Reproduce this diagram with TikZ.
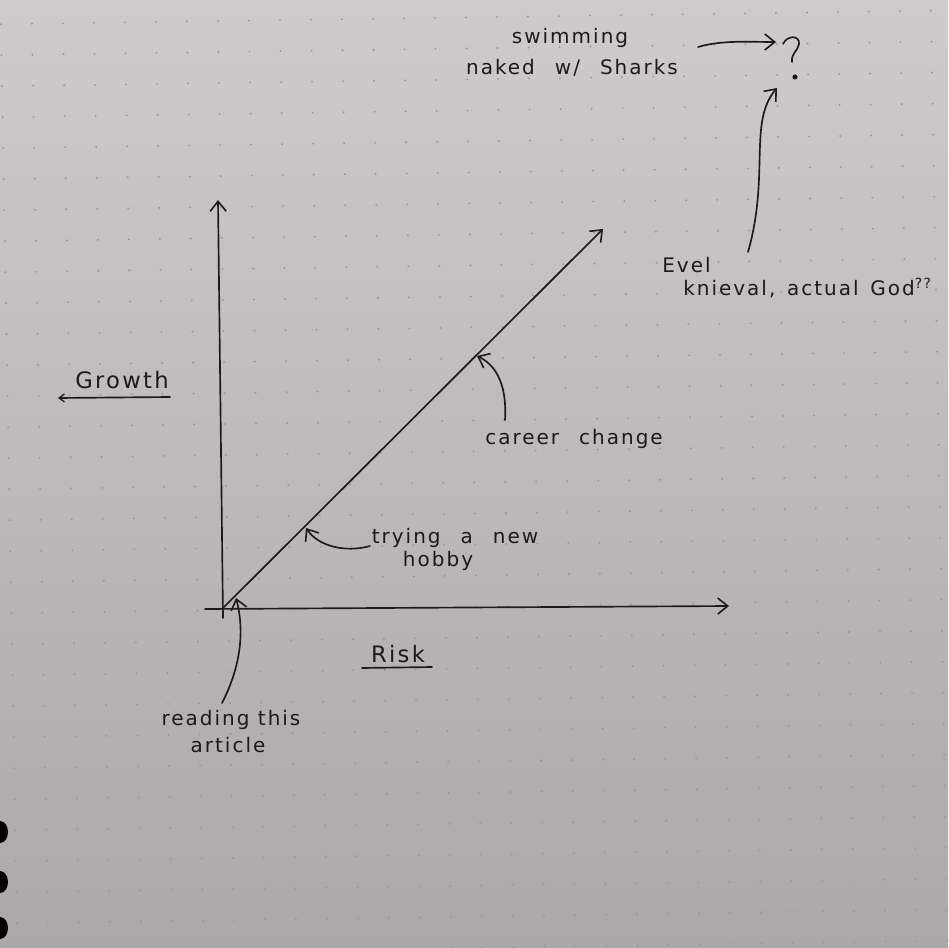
\documentclass[tikz,border=0pt]{standalone}
\usepackage{fontspec}
\usetikzlibrary{arrows.meta}
\newfontfamily\hand[LetterSpace=10]{DejaVu Sans}
\definecolor{papertop}{HTML}{CECBCD}
\definecolor{paperbot}{HTML}{ACA8AA}
\definecolor{ink}{HTML}{1C1A1B}
\definecolor{dotc}{HTML}{9A9698}
\tikzset{
  inkline/.style={draw=ink, line width=1.25pt, line cap=round, line join=round},
  barb/.style={inkline, -{Straight Barb[length=7.5pt,width=12pt,line width=1.2pt]}},
  label/.style={text=ink, font=\hand\fontsize{15}{17}\selectfont, inner sep=0pt},
  biglabel/.style={text=ink, font=\hand\fontsize{17}{19}\selectfont, inner sep=0pt}
}
\begin{document}
\begin{tikzpicture}[x=0.75pt,y=-0.75pt]
\useasboundingbox (0,0) rectangle (948,948);
\shade[top color=papertop, bottom color=paperbot] (0,0) rectangle (948,948);
% dot grid
\foreach \i in {0,...,30}{
  \foreach \j in {-1,...,30}{
    \fill[dotc] ({0.95+31*\i+0.55*\j},{24.2+31*\j-0.45*\i}) circle (1.05);
  }
}
% binder holes
\foreach \yy in {832,882,928}{
  \fill[black] (0,\yy) ellipse (8 and 11);
}
% coordinates
\coordinate (O) at (223,608);
\coordinate (ybot) at (223,618);
\coordinate (ytop) at (218,200);
\coordinate (xleft) at (205,609);
\coordinate (xright) at (729,606);
\coordinate (dtip) at (603,229);
\coordinate (hobbyPt) at (306,528);
\coordinate (careerPt) at (477,356);
\coordinate (originPt) at (236,598);
% axes
\draw[barb] (ybot) -- (ytop);
\draw[barb] (xleft) -- (xright);
\draw[barb] (O) -- (dtip);
% labels
\node[biglabel] (growth) at (122,380) {Growth};
\coordinate (gl) at (58,398);
\coordinate (gr) at (170,397);
\draw[inkline, {Straight Barb[length=4pt,width=6pt,line width=1pt]}-] (gl) -- (gr);
\node[biglabel] (risk) at (398,654) {Risk};
\coordinate (rl) at (362,668);
\coordinate (rr) at (432,667);
\draw[inkline] (rl) -- (rr);
% reading this article
\node[label] (read1) at (231,720) {reading this};
\node[label] (read2) at (228,745) {article};
\coordinate (readStart) at (222,703);
\draw[barb] (readStart) .. controls (238,672) and (246,636) .. (originPt);
% trying a new hobby
\node[label] (hob1) at (455,538) {trying\quad a\quad new};
\node[label] (hob2) at (438,561) {hobby};
\coordinate (hobStart) at (370,546);
\draw[barb] (hobStart) .. controls (345,553) and (318,546) .. (hobbyPt);
% career change
\node[label] (career) at (574,439) {career\quad change};
\coordinate (carStart) at (505,420);
\draw[barb] (carStart) .. controls (507,388) and (498,366) .. (careerPt);
% swimming naked with sharks
\node[label] (sw1) at (570,38) {swimming};
\node[label] (sw2) at (572,68) {naked\quad w/\quad Sharks};
\coordinate (swStart) at (698,47);
\coordinate (swEnd) at (776,42);
\draw[barb] (swStart) .. controls (722,40) and (748,42) .. (swEnd);
% question mark
\draw[inkline] (783,44) .. controls (787,35) and (800,35) .. (799,44) .. controls (798,51) and (791,53) .. (792,62);
\fill[ink] (795,77) circle (2.6);
% Evel Knievel
\node[label, anchor=west] (ev1) at (662,265) {Evel};
\node[label, anchor=west] (ev2) at (683,288) {knieval,\, actual\, God\textsuperscript{??}};
\coordinate (evStart) at (748,252);
\coordinate (evEnd) at (777,88);
\draw[barb] (evStart) .. controls (770,175) and (748,122) .. (evEnd);
\end{tikzpicture}
\end{document}
